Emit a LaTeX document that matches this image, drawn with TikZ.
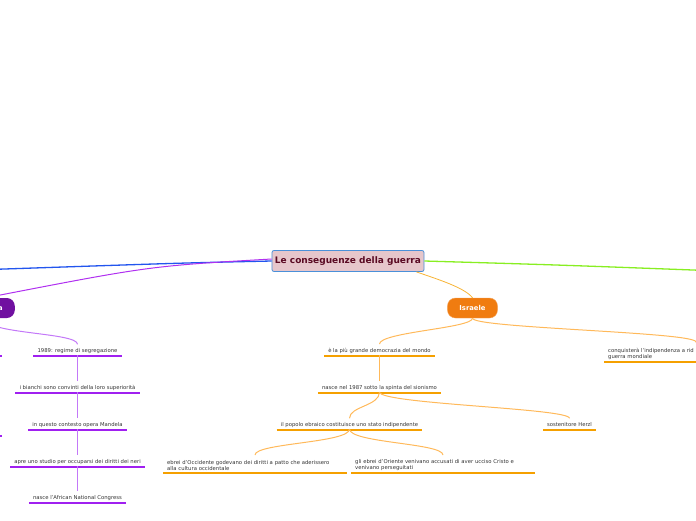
\documentclass[tikz,border=0pt]{standalone}
\usepackage{fontspec}
\setmainfont{DejaVu Sans}
\usepackage{tikz}
\usetikzlibrary{positioning, calc}
\definecolor{rootfill}{RGB}{230,198,203}
\definecolor{rootdraw}{RGB}{74,144,217}
\definecolor{roottext}{RGB}{90,10,35}
\definecolor{israfill}{RGB}{240,124,16}
\definecolor{sudfill}{RGB}{112,16,160}
\definecolor{orline}{RGB}{245,160,0}
\definecolor{orlink}{RGB}{255,185,90}
\definecolor{puline}{RGB}{160,32,240}
\definecolor{pulink}{RGB}{195,120,248}
\definecolor{blueline}{RGB}{34,85,238}
\definecolor{greenline}{RGB}{136,238,34}
\definecolor{purpline}{RGB}{176,48,240}

\begin{document}
\begin{tikzpicture}[x=1pt, y=-1pt,
    every node/.style={font=\fontsize{5.3}{6}\selectfont, text=black!80},
    topic/.style={draw=rootdraw, fill=rootfill, rounded corners=2pt, thick,
      font=\fontsize{9}{10}\bfseries, text=roottext, minimum height=21pt,
      inner xsep=3pt},
    branch/.style={rounded corners=8pt, minimum height=20pt, inner xsep=12pt,
      font=\fontsize{6.8}{7}\bfseries, text=white},
    leaf/.style={inner xsep=4pt, inner ysep=2.5pt, anchor=south, text depth=1.3pt},
    note/.style={inner xsep=4pt, inner ysep=2.5pt, anchor=south west, align=left},
    oline/.style={draw=orline, line width=2pt},
    pline/.style={draw=puline, line width=2pt},
    olink/.style={draw=orlink, line width=1pt},
    plink/.style={draw=pulink, line width=1pt}]
  \useasboundingbox (0,0) rectangle (696,520);
  \clip (0,0) rectangle (696,520);

  % central topic
  \node[topic] (root) at (348,261) {Le conseguenze della guerra};

  % main branches
  \node[branch, fill=israfill, draw=israfill!70] (israele) at (472.5,308) {Israele};
  \node[branch, fill=sudfill, anchor=east] (sudafrica) at (15,308) {Sudafrica};

  \draw[blueline, line width=1.3pt] (root.west) .. controls (180,263) .. (-10,269.5);
  \draw[purpline, line width=1pt] ([yshift=2pt]root.west) .. controls (150,266) .. (-10,297);
  \draw[greenline, line width=1.3pt] (root.east) .. controls (560,265) .. (706,270.5);
  \draw[orline!80, line width=0.8pt] ([xshift=-8pt]root.south east)
    .. controls (440,280) and (465,288) .. (israele.north);

  % Israele
  \node[leaf] (democrazia) at (379.5,356) {è la più grande democrazia del mondo};
  \node[note, text width=95pt] (indip) at (604,362)
    {conquisterà l'indipendenza a rid\\guerra mondiale};
  \node[leaf] (sionismo) at (379.5,393) {nasce nel 1987 sotto la spinta del sionismo};
  \node[leaf] (stato) at (349.5,430) {il popolo ebraico costituisce uno stato indipendente};
  \node[leaf] (herzl) at (569.5,430) {sostenitore Herzl};
  \node[note, text width=176pt] (occidente) at (163,473)
    {ebrei d'Occidente godevano dei diritti a patto che aderissero\\alla cultura occidentale};
  \node[note, text width=176pt] (oriente) at (351,473)
    {gli ebrei d'Oriente venivano accusati di aver ucciso Cristo e\\venivano perseguitati};

  \foreach \n in {democrazia, indip, sionismo, stato, herzl, occidente, oriente}
    \draw[oline] (\n.south west) -- (\n.south east);

  \draw[olink] (israele.south) .. controls +(0,10) and +(0,-12) .. ([yshift=1pt]democrazia.north);
  \draw[olink] (israele.south) .. controls +(0,10) and +(0,-10) .. (696,342) -- (710,342);
  \draw[olink] ([yshift=1pt]democrazia.south) -- ([yshift=1pt]sionismo.north);
  \draw[olink] ([yshift=1pt]sionismo.south) .. controls +(0,14) and +(0,-12) .. ([yshift=1pt]stato.north);
  \draw[olink] ([yshift=1pt]sionismo.south) .. controls +(0,12) and +(0,-10) .. ([yshift=1pt]herzl.north);
  \draw[olink] ([yshift=1pt]stato.south) .. controls +(0,14) and +(0,-12) .. (255,455);
  \draw[olink] ([yshift=1pt]stato.south) .. controls +(0,14) and +(0,-12) .. (443,455);

  % Sudafrica
  \node[leaf] (segreg) at (77.5,356) {1989: regime di segregazione};
  \node[leaf] (bianchi) at (77.5,393) {i bianchi sono convinti della loro superiorità};
  \node[leaf] (mandela) at (77.5,430) {in questo contesto opera Mandela};
  \node[leaf] (studio) at (77.5,467) {apre uno studio per occuparsi dei diritti dei neri};
  \node[leaf] (anc) at (77.5,503) {nasce l'African National Congress};

  \foreach \n in {segreg, bianchi, mandela, studio, anc}
    \draw[pline] (\n.south west) -- (\n.south east);
  \draw[pline] (-5,356) -- (2,356);
  \draw[pline] (-5,436) -- (2,436);

  \draw[plink] (sudafrica.south) .. controls +(0,16) and +(0,-12) .. ([yshift=1pt]segreg.north);
  \draw[plink] ([yshift=1pt]segreg.south) -- ([yshift=1pt]bianchi.north);
  \draw[plink] ([yshift=1pt]bianchi.south) -- ([yshift=1pt]mandela.north);
  \draw[plink] ([yshift=1pt]mandela.south) -- ([yshift=1pt]studio.north);
  \draw[plink] ([yshift=1pt]studio.south) -- ([yshift=1pt]anc.north);
\end{tikzpicture}
\end{document}
